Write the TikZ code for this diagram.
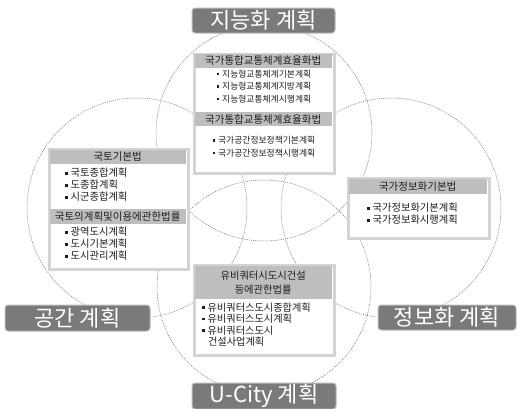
\documentclass[tikz,border=0pt]{standalone}
\usepackage{fontspec}
\setmainfont{Noto Sans CJK KR}
\definecolor{labelgray}{HTML}{7A7A7A}
\definecolor{labeledge}{HTML}{BDBDBD}
\definecolor{framegray}{HTML}{D4D4D4}
\definecolor{hdrgray}{HTML}{BEBEBE}
\definecolor{txt}{HTML}{1E1E1E}
\newcommand{\mybul}{\raisebox{0.22em}{\rule{2.4pt}{2.4pt}}\hspace{3pt}}
\begin{document}
\begin{tikzpicture}[x=1pt,y=-1pt]
\tikzset{
 circ/.style={draw=black!55, line width=0.5pt, dash pattern=on 1pt off 1pt},
 biglabel/.style={fill=labelgray, draw=labeledge, line width=1pt, rounded corners=3pt, text=white, font=\fontsize{22}{24}\selectfont, inner sep=0pt},
 frame/.style={fill=white, draw=framegray, line width=2.5pt, anchor=north west, inner sep=0pt},
 hdr/.style={fill=hdrgray, draw=none, anchor=north west, inner sep=0pt},
 htext/.style={font=\fontsize{10.5}{14}\selectfont, text=txt, inner sep=0pt, align=center},
 btext/.style={font=\fontsize{10.3}{12}\selectfont, align=left, text=txt, inner sep=0pt},
 stext/.style={font=\fontsize{8.8}{12.5}\selectfont, align=left, text=txt, inner sep=0pt},
}
\fill[white] (0,0) rectangle (520,408);
\useasboundingbox (0,0) rectangle (520,408);
% circles
\coordinate (ctop) at (264,133);
\coordinate (cbot) at (264,287);
\coordinate (cleft) at (137,208);
\coordinate (cright) at (391,208);
\draw[circ] (ctop) circle[radius=108pt];
\draw[circ] (cbot) circle[radius=107pt];
\draw[circ] (cleft) circle[radius=110pt];
\draw[circ] (cright) circle[radius=110pt];
% top box
\node[frame, minimum width=140pt, minimum height=119pt] (topbox) at (193,53) {};
\node[hdr, minimum width=137pt, minimum height=14pt] (toph1) at (194.5,53.5) {};
\node[htext] at (toph1.center) {국가통합교통체계효율화법};
\node[stext] (topb1) at (264,86.5) {\mybul 지능형교통체계기본계획\\ \mybul 지능형교통체계지방계획\\ \mybul 지능형교통체계시행계획};
\node[hdr, minimum width=137pt, minimum height=14pt] (toph2) at (194.5,112) {};
\node[htext] at (toph2.center) {국가통합교통체계효율화법};
\node[stext] (topb2) at (264,146.5) {\mybul 국가공간정보정책기본계획\\ \mybul 국가공간정보정책시행계획};
% left box
\node[frame, minimum width=139pt, minimum height=120pt] (leftbox) at (48,148) {};
\node[hdr, minimum width=136pt, minimum height=14pt] (lefth1) at (49.5,149.5) {};
\node[htext] at (lefth1.center) {국토기본법};
\node[btext, anchor=west] (leftb1) at (65,185) {\mybul 국토종합계획\\ \mybul 도종합계획\\ \mybul 시군종합계획};
\node[hdr, minimum width=136pt, minimum height=15pt] (lefth2) at (49.5,208.5) {};
\node[htext] at (lefth2.center) {국토의계획및이용에관한법률};
\node[btext, anchor=west] (leftb2) at (65,244) {\mybul 광역도시계획\\ \mybul 도시기본계획\\ \mybul 도시관리계획};
% right box
\node[frame, minimum width=141pt, minimum height=60pt] (rightbox) at (347,177) {};
\node[hdr, minimum width=138pt, minimum height=15pt] (righth) at (348.5,178.5) {};
\node[htext] at (righth.center) {국가정보화기본법};
\node[btext, anchor=west] (rightb) at (367,214) {\mybul 국가정보화기본계획\\ \mybul 국가정보화시행계획};
% bottom box
\node[frame, minimum width=140pt, minimum height=90pt] (botbox) at (193,264) {};
\node[hdr, minimum width=137pt, minimum height=33pt] (both) at (194.5,265.5) {};
\node[htext, font=\fontsize{10.3}{14}\selectfont] at (both.center) {유비쿼터시도시건설\\등에관한법률};
\node[btext, anchor=west, font=\fontsize{10.2}{11.5}\selectfont] (botb) at (202,324.5) {\mybul 유비쿼터스도시종합계획\\ \mybul 유비쿼터스도시계획\\ \mybul 유비쿼터스도시\\ \hspace*{5.8pt}건설사업계획};
% big labels
\node[biglabel, minimum width=143pt, minimum height=25pt] (ltop) at (263.5,20.5) {지능화 계획};
\node[biglabel, minimum width=145pt, minimum height=26pt] (lleft) at (77.5,318) {공간 계획};
\node[biglabel, minimum width=138pt, minimum height=25pt] (lright) at (447,317.5) {정보화 계획};
\node[biglabel, minimum width=144pt, minimum height=26pt] (lbot) at (264,396) {U-City 계획};
\end{tikzpicture}
\end{document}
